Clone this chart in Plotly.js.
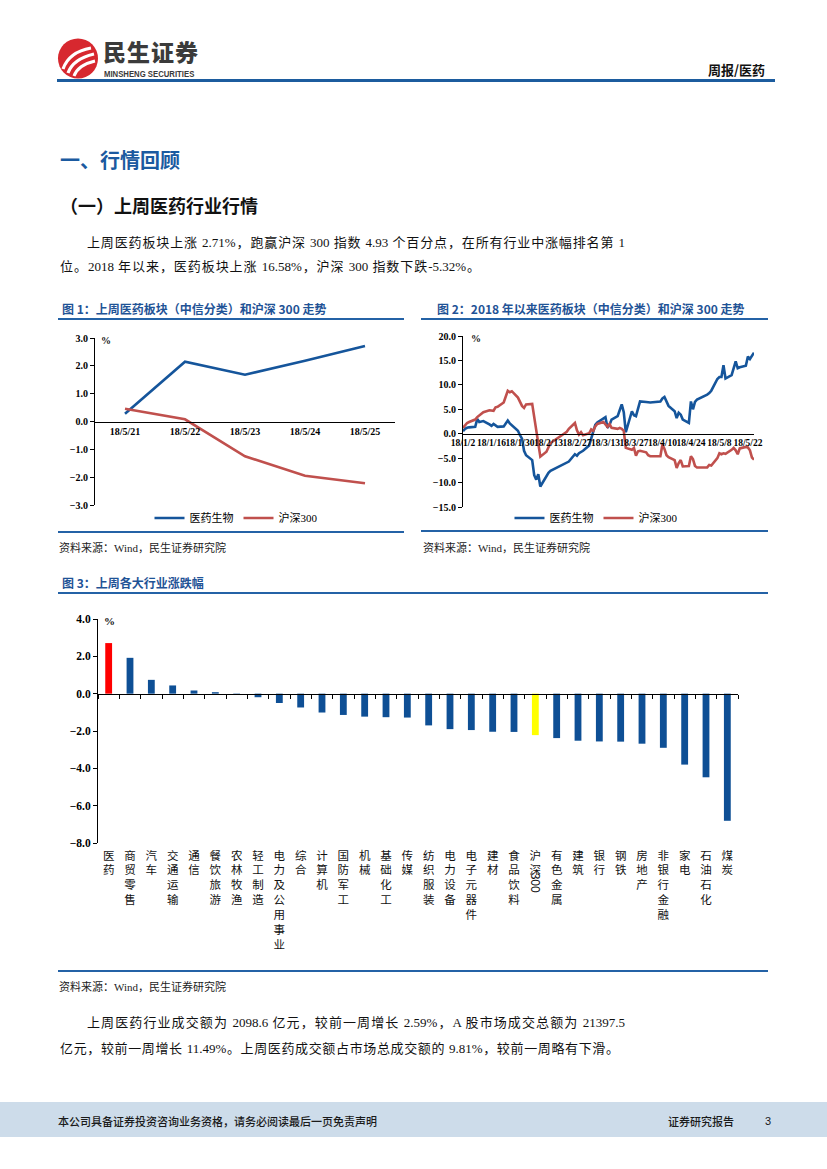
<!DOCTYPE html>
<html><head><meta charset="utf-8">
<script src="https://cdn.plot.ly/plotly-3.0.1.min.js"></script>
<style>
body{margin:0;width:827px;height:1169px;position:relative;background:#fff;font-family:"Liberation Serif","Noto Sans CJK SC",serif;overflow:hidden;color:#111}
.a{position:absolute;white-space:nowrap}
.ln{position:absolute;background:#2462a6;height:2px}
.ft{font-family:"Noto Sans CJK SC";font-weight:700;color:#1f5396;font-size:12px;line-height:16px}
.src{font-size:11px;line-height:14px;color:#222}
.p{font-size:13px;line-height:20px;text-align:justify;text-align-last:justify}
.chart{position:absolute}
</style></head><body>

<script>
// ---------- data ----------
const week_dates = ['18/5/21','18/5/22','18/5/23','18/5/24','18/5/25'];
const week_pharma = [0.28, 2.15, 1.68, 2.18, 2.71];
const week_hs300 = [0.46, 0.08, -1.25, -1.95, -2.22];

const ytd_dates = ['2018-01-02','2018-01-03','2018-01-04','2018-01-05','2018-01-08','2018-01-09','2018-01-10','2018-01-11','2018-01-12',
'2018-01-15','2018-01-16','2018-01-17','2018-01-18','2018-01-19','2018-01-22','2018-01-23','2018-01-24','2018-01-25','2018-01-26',
'2018-01-29','2018-01-30','2018-01-31','2018-02-01','2018-02-02','2018-02-05','2018-02-06','2018-02-07','2018-02-08','2018-02-09',
'2018-02-12','2018-02-13','2018-02-14','2018-02-22','2018-02-23','2018-02-26','2018-02-27','2018-02-28','2018-03-01','2018-03-02',
'2018-03-05','2018-03-06','2018-03-07','2018-03-08','2018-03-09','2018-03-12','2018-03-13','2018-03-14','2018-03-15','2018-03-16',
'2018-03-19','2018-03-20','2018-03-21','2018-03-22','2018-03-23','2018-03-26','2018-03-27','2018-03-28','2018-03-29','2018-03-30',
'2018-04-02','2018-04-03','2018-04-04','2018-04-09','2018-04-10','2018-04-11','2018-04-12','2018-04-13','2018-04-16','2018-04-17',
'2018-04-18','2018-04-19','2018-04-20','2018-04-23','2018-04-24','2018-04-25','2018-04-26','2018-04-27','2018-05-02','2018-05-03',
'2018-05-04','2018-05-07','2018-05-08','2018-05-09','2018-05-10','2018-05-11','2018-05-14','2018-05-15','2018-05-16','2018-05-17',
'2018-05-18','2018-05-21','2018-05-22','2018-05-23','2018-05-24','2018-05-25'];
const ytd_pharma = [0.5,1.0,1.2,1.3,1.4,3.0,2.4,2.5,2.6,
1.9,1.6,2.0,1.6,1.4,1.5,2.2,2.7,2.1,1.7,
0.6,-0.3,-1.0,-3.5,-4.4,-5.4,-8.5,-9.4,-8.3,-10.8,
-8.7,-8.0,-7.6,-5.9,-5.7,-4.2,-4.5,-4.0,-3.7,-3.5,
-2.4,-0.8,0.6,1.8,2.3,3.0,3.4,1.2,1.8,2.9,
3.6,4.8,6.0,4.4,0.3,4.6,3.8,3.6,5.0,6.6,
6.5,6.4,6.4,6.6,7.2,7.5,6.6,5.7,4.6,3.2,
4.3,3.9,2.9,2.2,6.6,5.0,6.5,7.0,8.0,8.3,
8.8,11.2,11.6,11.6,14.0,11.3,12.0,13.2,14.8,13.4,
13.6,13.9,15.8,15.3,16.0,16.58];
const ytd_hs300 = [1.2,1.8,2.2,2.4,2.9,3.4,3.8,4.1,4.4,
4.8,4.8,4.7,5.4,5.5,6.4,7.7,8.8,8.5,8.7,
7.4,6.5,5.7,5.3,6.0,6.1,3.5,0.5,-1.6,-4.7,
-3.7,-2.7,-1.9,0.4,1.0,2.2,0.7,-0.2,0.3,-0.3,
0.1,0.9,0.6,1.5,2.0,2.4,2.0,1.4,2.0,1.2,
1.0,1.2,1.0,0.6,-2.9,-3.3,-2.9,-4.5,-3.6,-3.5,
-3.8,-4.4,-4.6,-4.6,-2.2,-3.1,-4.4,-4.8,-5.4,-7.0,
-6.0,-5.4,-6.7,-6.6,-4.6,-5.2,-6.6,-6.9,-6.9,-6.4,
-6.5,-5.0,-4.0,-4.2,-4.0,-4.1,-3.3,-2.9,-3.4,-4.2,
-3.0,-2.7,-2.8,-3.4,-4.9,-5.32];
const ytd_tick_vals = ['2018-01-02','2018-01-16','2018-01-30','2018-02-13','2018-02-27','2018-03-13','2018-03-27','2018-04-10','2018-04-24','2018-05-08','2018-05-22'];
const ytd_tick_text = ['18/1/2','18/1/16','18/1/30','18/2/13','18/2/27','18/3/13','18/3/27','18/4/10','18/4/24','18/5/8','18/5/22'];

const industries = ['医药','商贸零售','汽车','交通运输','通信','餐饮旅游','农林牧渔','轻工制造','电力及公用事业','综合',
'计算机','国防军工','机械','基础化工','传媒','纺织服装','电力设备','电子元器件','建材','食品饮料',
'沪深300','有色金属','建筑','银行','钢铁','房地产','非银行金融','家电','石油石化','煤炭'];
const industry_change = [2.71,1.92,0.74,0.44,0.17,0.08,-0.03,-0.19,-0.50,-0.74,
-1.01,-1.14,-1.23,-1.26,-1.28,-1.70,-1.90,-1.95,-2.04,-2.05,
-2.22,-2.38,-2.52,-2.56,-2.57,-2.68,-2.90,-3.80,-4.48,-6.81];
</script>

<!-- header -->
<svg class="a" style="left:57px;top:38px" width="42" height="41" viewBox="0 0 42 41">
  <circle cx="21" cy="20.5" r="20" fill="#d7282f"/>
  <path d="M6 31 Q12 14 34 10" stroke="#fff" stroke-width="3.2" fill="none"/>
  <path d="M11 35 Q16 21 37 16" stroke="#fff" stroke-width="3.2" fill="none"/>
  <path d="M17 38 Q21 27 38 23" stroke="#fff" stroke-width="3" fill="none"/>
</svg>
<div class="a" style="left:103px;top:39px;font-family:'Noto Sans CJK SC';font-weight:900;font-size:23px;line-height:24px;color:#3b3b3b;letter-spacing:1px">民生证券</div>
<div class="a" style="left:104px;top:69px;font-family:'Liberation Sans';font-weight:700;font-size:9px;line-height:10px;color:#3b3b3b;transform:scaleX(0.86);transform-origin:left">MINSHENG SECURITIES</div>
<div class="a" style="left:708px;top:61px;font-family:'Noto Sans CJK SC';font-weight:700;font-size:13px;line-height:18px">周报/医药</div>
<div class="ln" style="left:57px;top:79px;width:718px;height:3px;background:#1c5c9e"></div>

<div class="a" style="left:60px;top:146px;font-family:'Noto Sans CJK SC';font-weight:700;font-size:20px;line-height:28px;color:#1b5aa0">一、行情回顾</div>
<div class="a" style="left:60px;top:193px;font-family:'Noto Sans CJK SC';font-weight:700;font-size:18px;line-height:24px;color:#111">（一）上周医药行业行情</div>

<div class="a p" style="left:87px;top:233px;width:538px">上周医药板块上涨 2.71%，跑赢沪深 300 指数 4.93 个百分点，在所有行业中涨幅排名第 1</div>
<div class="a p" style="left:60px;top:257px;width:420px">位。2018 年以来，医药板块上涨 16.58%，沪深 300 指数下跌-5.32%。</div>

<!-- figure 1 & 2 frames -->
<div class="a ft" style="left:62px;top:301px">图 1：上周医药板块（中信分类）和沪深 300 走势</div>
<div class="ln" style="left:58px;top:318px;width:346px"></div>
<div class="ln" style="left:58px;top:531px;width:346px"></div>
<div class="a src" style="left:59px;top:541px">资料来源：Wind，民生证券研究院</div>

<div class="a ft" style="left:437px;top:301px">图 2：2018 年以来医药板块（中信分类）和沪深 300 走势</div>
<div class="ln" style="left:421px;top:318px;width:347px"></div>
<div class="ln" style="left:421px;top:530px;width:347px"></div>
<div class="a src" style="left:423px;top:541px">资料来源：Wind，民生证券研究院</div>

<div class="a ft" style="left:62px;top:575px">图 3：上周各大行业涨跌幅</div>
<div class="ln" style="left:58px;top:592px;width:710px"></div>
<div class="ln" style="left:58px;top:970px;width:710px"></div>
<div class="a src" style="left:59px;top:980px">资料来源：Wind，民生证券研究院</div>

<div class="a p" style="left:87px;top:1013px;width:538px">上周医药行业成交额为 2098.6 亿元，较前一周增长 2.59%，A 股市场成交总额为 21397.5</div>
<div class="a p" style="left:60px;top:1039px;width:559px">亿元，较前一周增长 11.49%。上周医药成交额占市场总成交额的 9.81%，较前一周略有下滑。</div>

<!-- footer -->
<div class="a" style="left:0;top:1102px;width:827px;height:35px;background:#cddcea"></div>
<div class="a" style="left:58px;top:1112px;font-family:'Noto Sans CJK SC';font-weight:500;font-size:11px;line-height:18px;color:#1a1a1a">本公司具备证券投资咨询业务资格，请务必阅读最后一页免责声明</div>
<div class="a" style="left:668px;top:1112px;font-family:'Noto Sans CJK SC';font-weight:500;font-size:11px;line-height:18px;color:#1a1a1a">证券研究报告</div>
<div class="a" style="left:765px;top:1112px;font-family:'Liberation Sans';font-size:11px;line-height:18px;color:#1a1a1a">3</div>

<div id="c1" class="chart" style="left:40px;top:328px;width:370px;height:200px"></div>
<div id="c2" class="chart" style="left:420px;top:328px;width:360px;height:200px"></div>
<div id="c3" class="chart" style="left:40px;top:605px;width:720px;height:360px"></div>

<div class="a" style="left:101px;top:335px;font-family:'Liberation Serif';font-weight:700;font-size:10px;line-height:12px">%</div>
<div class="a" style="left:471px;top:333px;font-family:'Liberation Serif';font-weight:700;font-size:10px;line-height:12px">%</div>
<div class="a" style="left:104px;top:615px;font-family:'Liberation Serif';font-weight:700;font-size:11px;line-height:13px">%</div>

<script>
const BLUE = '#15559b', RED = '#c0504d';
const numFont = {family:'Liberation Serif', size:10, color:'#000', weight:700};
const numFont2 = {family:'Liberation Serif', size:9.5, color:'#000', weight:700};
const legFont = {family:'Liberation Serif, Noto Sans CJK SC', size:11, color:'#000'};
const cfg = {staticPlot:true, displayModeBar:false};

// chart 1
Plotly.newPlot('c1', [
  {x: week_dates, y: week_pharma, type:'scatter', mode:'lines', name:'医药生物', line:{color:BLUE, width:2.6}},
  {x: week_dates, y: week_hs300, type:'scatter', mode:'lines', name:'沪深300', line:{color:RED, width:2.6}}
], {
  width:370, height:200, margin:{l:55, r:15, t:10, b:23, autoexpand:false},
  paper_bgcolor:'rgba(0,0,0,0)', plot_bgcolor:'rgba(0,0,0,0)',
  xaxis:{type:'category', range:[-0.5,4.5], anchor:'free', position:0.5, showline:true, linecolor:'#000', linewidth:1,
         ticks:'', showgrid:false, zeroline:false, tickfont:numFont, tickangle:0},
  yaxis:{range:[-3,3], dtick:1, tickformat:'.1f', showline:true, linecolor:'#000', linewidth:1, ticks:'outside', ticklen:4,
         tickcolor:'#000', showgrid:false, zeroline:false, tickfont:numFont},
  showlegend:true,
  legend:{orientation:'h', x:0.47, xanchor:'center', y:-0.078, yanchor:'middle', font:legFont, itemwidth:30, bgcolor:'rgba(0,0,0,0)'}
}, cfg);

// chart 2
Plotly.newPlot('c2', [
  {x: ytd_dates, y: ytd_pharma, type:'scatter', mode:'lines', name:'医药生物', line:{color:BLUE, width:2.6}},
  {x: ytd_dates, y: ytd_hs300, type:'scatter', mode:'lines', name:'沪深300', line:{color:RED, width:2.6}}
], {
  width:360, height:200, margin:{l:43, r:26, t:8, b:21, autoexpand:false},
  paper_bgcolor:'rgba(0,0,0,0)', plot_bgcolor:'rgba(0,0,0,0)',
  xaxis:{type:'date', range:['2018-01-02','2018-05-25'], anchor:'free', position:15/35, showline:true, linecolor:'#000', linewidth:1,
         ticks:'', tickvals:ytd_tick_vals, ticktext:ytd_tick_text, tickangle:0, showgrid:false, zeroline:false, tickfont:numFont2},
  yaxis:{range:[-15,20], dtick:5, tickformat:'.1f', showline:true, linecolor:'#000', linewidth:1, ticks:'outside', ticklen:4,
         tickcolor:'#000', showgrid:false, zeroline:false, tickfont:numFont},
  showlegend:true,
  legend:{orientation:'h', x:0.457, xanchor:'center', y:-0.064, yanchor:'middle', font:legFont, itemwidth:30, bgcolor:'rgba(0,0,0,0)'}
}, cfg);

// chart 3
const barColors = industries.map(c => c === '医药' ? '#ff0000' : (c === '沪深300' ? '#ffff00' : '#0e4f95'));
const tickText = industries.map(c => c.replace(/\d+/g, '').split('').join('<br>'));
Plotly.newPlot('c3', [
  {x: industries, y: industry_change, type:'bar', marker:{color:barColors}, showlegend:false},
  {x: industries, y: industry_change, type:'scatter', mode:'markers', marker:{opacity:0}, xaxis:'x2', showlegend:false, hoverinfo:'skip'}
], {
  width:720, height:360, margin:{l:58, r:22, t:14, b:122, autoexpand:false},
  paper_bgcolor:'rgba(0,0,0,0)', plot_bgcolor:'rgba(0,0,0,0)', bargap:0.68,
  xaxis:{type:'category', range:[-0.5,29.5], tickvals:industries, ticktext:tickText, tickangle:0, showline:false, ticks:'',
         showgrid:false, zeroline:false, ticklabelstandoff:4, tickfont:{family:'Noto Sans CJK SC', size:11.5, color:'#111'}},
  xaxis2:{type:'category', overlaying:'x', anchor:'free', position:8/12, range:[-0.5,29.5], showline:true, linecolor:'#000',
          linewidth:1, ticks:'outside', ticklen:4, tickcolor:'#000', tickson:'boundaries', showticklabels:false, showgrid:false, zeroline:false},
  yaxis:{range:[-8,4], dtick:2, tickformat:'.1f', showline:true, linecolor:'#000', linewidth:1, ticks:'outside', ticklen:4,
         tickcolor:'#000', showgrid:false, zeroline:false, tickfont:{family:'Liberation Serif', size:11.5, color:'#000', weight:700}},
  annotations:[{x:'沪深300', xref:'x', y:-0.232, yref:'paper', text:'300', textangle:90, showarrow:false,
                font:{family:'Liberation Sans', size:12, color:'#111'}}]
}, cfg);
</script>
</body></html>
